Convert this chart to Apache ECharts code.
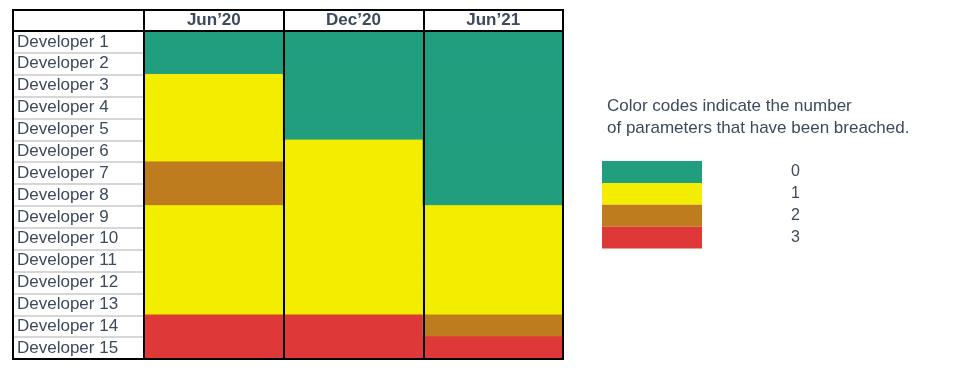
<!DOCTYPE html>
<html><head><meta charset="utf-8">
<script src="https://cdn.jsdelivr.net/npm/echarts@6/dist/echarts.min.js"></script>
<style>html,body{margin:0;padding:0;background:#fff}#c{width:960px;height:374px}</style>
</head><body><div id="c"></div>
<script>
const periods = ['Jun’20', 'Dec’20', 'Jun’21'];
const developers = ['Developer 1','Developer 2','Developer 3','Developer 4','Developer 5','Developer 6','Developer 7','Developer 8','Developer 9','Developer 10','Developer 11','Developer 12','Developer 13','Developer 14','Developer 15'];
const breachesJun20 = [0,0,1,1,1,1,2,2,1,1,1,1,1,3,3];
const breachesDec20 = [0,0,0,0,0,1,1,1,1,1,1,1,1,3,3];
const breachesJun21 = [0,0,0,0,0,0,0,0,1,1,1,1,1,2,3];
const levelLabels = ['0','1','2','3'];
const levelColors = ['#219e7e','#f3ed00','#bf7c1f','#de3838'];
const noteLines = ['Color codes indicate the number','of parameters that have been breached.'];

const textColor = '#3d4a5b';
const seriesByPeriod = [breachesJun20, breachesDec20, breachesJun21];
const cells = [];
seriesByPeriod.forEach((vals, xi) => vals.forEach((v, yi) => cells.push({
  value: [xi, yi, v], itemStyle: {borderColor: levelColors[v], borderWidth: 1}
})));

const chart = echarts.init(document.getElementById('c'), null, {renderer: 'canvas'});
const border = {show: true, borderColor: '#000', borderWidth: 2, backgroundColor: '#fff'};
const blackLine = {show: true, lineStyle: {color: '#000', width: 2}};
chart.setOption({
  animation: false,
  title: {
    text: noteLines.join('\n'), left: 607, top: 95, padding: 0,
    textStyle: {fontFamily: 'Liberation Sans, Arial', fontSize: 17, fontWeight: 'normal', color: textColor, lineHeight: 22}
  },
  grid: [
    Object.assign({left: 144, top: 31, width: 419, height: 328}, border, {backgroundColor: 'transparent'}),
    Object.assign({left: 13, top: 31, width: 131, height: 328}, border),
    Object.assign({left: 144, top: 10, width: 419, height: 21}, border),
    Object.assign({left: 13, top: 10, width: 131, height: 21}, border)
  ],
  xAxis: [
    {gridIndex: 0, type: 'category', data: periods, axisLabel: {show: false}, axisLine: {show: false}, axisTick: {show: false},
     splitLine: {show: true, interval: 0, lineStyle: {color: '#000', width: 2}}},
    {gridIndex: 1, type: 'value', position: 'bottom', axisLine: blackLine, axisTick: {show: false}, axisLabel: {show: false}, splitLine: {show: false}},
    {gridIndex: 2, type: 'category', data: periods, position: 'top', axisLine: {show: false}, axisTick: {show: false},
     axisLabel: {inside: true, interval: 0, margin: 2, fontFamily: 'Liberation Sans, Arial', fontSize: 17, fontWeight: 'bold', color: textColor},
     splitLine: {show: true, interval: 0, lineStyle: {color: '#000', width: 2}}},
    {gridIndex: 3, type: 'value', show: false}
  ],
  yAxis: [
    {gridIndex: 0, type: 'category', data: developers, inverse: true, show: false},
    {gridIndex: 1, type: 'category', data: developers, inverse: true, axisLine: blackLine, axisTick: {show: false, interval: 0},
     axisLabel: {inside: true, interval: 0, margin: 4, fontFamily: 'Liberation Sans, Arial', fontSize: 17, color: textColor, padding: [0, 0, 4, 0]},
     splitLine: {show: true, interval: 0, showMinLine: false, showMaxLine: false, lineStyle: {color: '#d6d6d6', width: 2}}},
    {gridIndex: 2, type: 'value', show: false},
    {gridIndex: 3, type: 'value', show: false}
  ],
  visualMap: {
    type: 'piecewise', seriesIndex: 0, orient: 'vertical', left: 602, top: 161, padding: 0, align: 'left', inverse: true,
    itemWidth: 100, itemHeight: 21.9, itemGap: 0, textGap: 89, itemSymbol: 'rect', selectedMode: false,
    pieces: levelLabels.map((l, i) => ({value: i, label: l, color: levelColors[i]})),
    textStyle: {fontFamily: 'Liberation Sans, Arial', fontSize: 16, color: textColor}
  },
  series: [{
    type: 'heatmap', xAxisIndex: 0, yAxisIndex: 0, data: cells, z: -1,
    label: {show: false}
  }]
});
</script></body></html>
